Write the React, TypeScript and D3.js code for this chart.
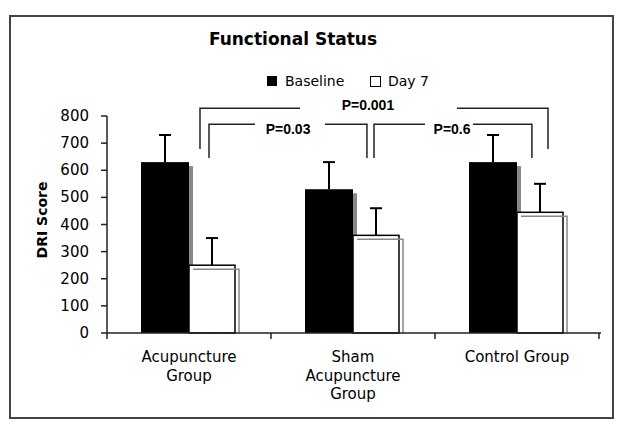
import React from "react";
import * as d3 from "d3";

const categories = ["Acupuncture Group", "Sham Acupuncture Group", "Control Group"];
const categoryLines = [["Acupuncture", "Group"], ["Sham", "Acupuncture", "Group"], ["Control Group"]];
const series = ["Baseline", "Day 7"];
const baseline = [630, 530, 630];
const baselineSD = [100, 100, 100];
const day7 = [250, 360, 445];
const day7SD = [100, 100, 105];
const yTicks = [0, 100, 200, 300, 400, 500, 600, 700, 800];

// significance brackets: x in category units (0 = first group centre), y in DRI units
const bracketLabels = ["P=0.001", "P=0.03", "P=0.6"];
const bracketX0 = [0.067, 0.122, 1.128];
const bracketX1 = [2.189, 1.085, 2.091];
const bracketGap0 = [0.677, 0.402, 1.439];
const bracketGap1 = [1.634, 0.829, 1.732];
const bracketTop = [829, 770, 770];
const bracketBottom = [678, 645, 645];
const bracketText = [1.091, 0.604, 1.604];

const W = 624, H = 428;
const M = { left: 107, right: 599, top: 116, bottom: 333 };

export default function App() {
  const y = d3.scaleLinear().domain([0, 800]).range([M.bottom, M.top]);
  const x = d3.scaleBand().domain(categories).range([M.left, M.right]).padding(0);
  const inner = d3.scaleBand().domain(series).range([-48, 48]).padding(0);
  const cu = d3.scaleLinear().domain([0, 1]).range([x(categories[0])! + x.bandwidth() / 2, x(categories[1])! + x.bandwidth() / 2]);
  const font = "'DejaVu Sans', Verdana, sans-serif";
  const off = 4;
  const bw = inner.bandwidth();

  return (
    <svg width={W} height={H} style={{ position: "absolute", left: 0, top: 0, background: "#fff" }}>
      <rect x={0} y={0} width={W} height={H} fill="#fff" />
      <rect x={10} y={16} width={603} height={402} fill="none" stroke="#444" strokeWidth={2} />
      <text x={293} y={45} textAnchor="middle" fontFamily={font} fontWeight="bold" fontSize={17}>Functional Status</text>

      {/* legend */}
      <rect x={267} y={76} width={10} height={10} fill="#000" />
      <text x={285} y={86} fontFamily={font} fontSize={14}>Baseline</text>
      <rect x={370.5} y={76.5} width={10} height={10} fill="#fff" stroke="#000" strokeWidth={1} />
      <text x={388} y={86} fontFamily={font} fontSize={14}>Day 7</text>

      {/* y axis */}
      <line x1={M.left} x2={M.left} y1={y(800)} y2={y(0)} stroke="#222" strokeWidth={1.5} />
      {yTicks.map((t) => (
        <g key={t}>
          <line x1={M.left - 6} x2={M.left} y1={y(t)} y2={y(t)} stroke="#222" strokeWidth={1.5} />
          <text x={89} y={y(t) + 5} textAnchor="end" fontFamily={font} fontSize={15}>{t}</text>
        </g>
      ))}
      <text transform={`translate(47,220) rotate(-90)`} textAnchor="middle" fontFamily={font} fontWeight="bold" fontSize={14}>DRI Score</text>

      {/* bars */}
      {categories.map((c, i) => {
        const cx = x(c)! + x.bandwidth() / 2;
        const bx = cx + inner("Baseline")!;
        const dx = cx + inner("Day 7")!;
        const by = y(baseline[i]);
        const dy = y(day7[i]);
        return (
          <g key={c}>
            <rect x={bx + off} y={by + off} width={bw} height={y(0) - by - off} fill="#888" />
            <rect x={bx} y={by} width={bw} height={y(0) - by} fill="#000" />
            <rect x={dx} y={dy} width={bw - 2} height={y(0) - dy} fill="#fff" stroke="#000" strokeWidth={1.5} />
            <path d={`M${dx + off},${dy + off}H${dx + bw - 2 + off}V${y(0)}`} fill="none" stroke="#888" strokeWidth={1.5} />
            {/* error bars */}
            <line x1={bx + bw / 2} x2={bx + bw / 2} y1={by} y2={y(baseline[i] + baselineSD[i])} stroke="#000" strokeWidth={2} />
            <line x1={bx + bw / 2 - 6} x2={bx + bw / 2 + 6} y1={y(baseline[i] + baselineSD[i])} y2={y(baseline[i] + baselineSD[i])} stroke="#000" strokeWidth={2} />
            <line x1={dx + bw / 2 - 1} x2={dx + bw / 2 - 1} y1={dy} y2={y(day7[i] + day7SD[i])} stroke="#000" strokeWidth={2} />
            <line x1={dx + bw / 2 - 7} x2={dx + bw / 2 + 5} y1={y(day7[i] + day7SD[i])} y2={y(day7[i] + day7SD[i])} stroke="#000" strokeWidth={2} />
          </g>
        );
      })}

      {/* x axis */}
      <line x1={M.left} x2={M.right + 2} y1={y(0)} y2={y(0)} stroke="#222" strokeWidth={1.5} />
      {[0, 1, 2, 3].map((k) => {
        const px = M.left + k * x.bandwidth();
        return <line key={k} x1={px} x2={px} y1={y(0)} y2={y(0) + 6} stroke="#222" strokeWidth={1.5} />;
      })}
      {categories.map((c, i) => (
        <text key={c} textAnchor="middle" fontFamily={font} fontSize={15}>
          {categoryLines[i].map((l, j) => (
            <tspan key={j} x={x(c)! + x.bandwidth() / 2} y={362 + j * 18.5}>{l}</tspan>
          ))}
        </text>
      ))}

      {/* brackets */}
      {bracketLabels.map((lab, i) => {
        const x0 = cu(bracketX0[i]), x1 = cu(bracketX1[i]);
        const g0 = cu(bracketGap0[i]), g1 = cu(bracketGap1[i]);
        const yt = y(bracketTop[i]), yb = y(bracketBottom[i]);
        return (
          <g key={lab}>
            <path d={`M${x0},${yb}V${yt}H${g0}M${g1},${yt}H${x1}V${yb}`} fill="none" stroke="#222" strokeWidth={1.5} />
            <text x={cu(bracketText[i])} y={yt + (i === 0 ? 2 : 10)} textAnchor="middle" fontFamily="'Liberation Sans', Arial, sans-serif" fontWeight="bold" fontSize={14}>{lab}</text>
          </g>
        );
      })}
    </svg>
  );
}
